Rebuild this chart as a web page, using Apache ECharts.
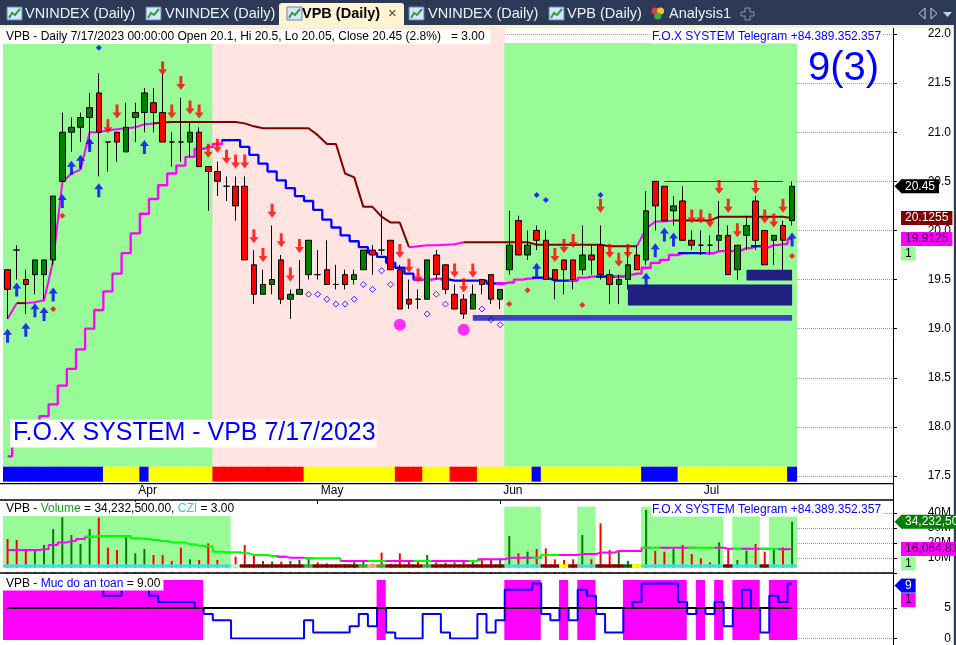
<!DOCTYPE html>
<html>
<head>
<meta charset="utf-8">
<title>VPB Daily</title>
<script src="https://cdn.jsdelivr.net/npm/echarts@6/dist/echarts.min.js"></script>
<style>
html,body{margin:0;padding:0;background:#fff;overflow:hidden;}
#chart{width:956px;height:645px;}
</style>
</head>
<body>
<div id="chart"></div>
<script>
// ================= DATA =================
const symbol = 'VPB';
const dates = [
'2023-03-14','2023-03-15','2023-03-16','2023-03-17','2023-03-20','2023-03-21','2023-03-22','2023-03-23','2023-03-24','2023-03-27','2023-03-28','2023-03-29','2023-03-30','2023-03-31',
'2023-04-03','2023-04-04','2023-04-05','2023-04-06','2023-04-07','2023-04-10','2023-04-11','2023-04-12','2023-04-13','2023-04-14','2023-04-17','2023-04-18','2023-04-19','2023-04-20','2023-04-21','2023-04-24','2023-04-25','2023-04-26','2023-04-27','2023-04-28',
'2023-05-04','2023-05-05','2023-05-08','2023-05-09','2023-05-10','2023-05-11','2023-05-12','2023-05-15','2023-05-16','2023-05-17','2023-05-18','2023-05-19','2023-05-22','2023-05-23','2023-05-24','2023-05-25','2023-05-26','2023-05-29','2023-05-30','2023-05-31',
'2023-06-01','2023-06-02','2023-06-05','2023-06-06','2023-06-07','2023-06-08','2023-06-09','2023-06-12','2023-06-13','2023-06-14','2023-06-15','2023-06-16','2023-06-19','2023-06-20','2023-06-21','2023-06-22','2023-06-23','2023-06-26','2023-06-27','2023-06-28','2023-06-29','2023-06-30',
'2023-07-03','2023-07-04','2023-07-05','2023-07-06','2023-07-07','2023-07-10','2023-07-11','2023-07-12','2023-07-13','2023-07-14','2023-07-17'];

const opens = [19.6,19.8,19.5,19.55,19.55,19.7,20.5,21.0,21.05,21.15,
21.4,20.9,21.0,20.8,21.15,21.2,21.3,21.2,20.9,20.9,
20.9,21.0,20.65,20.6,20.45,20.45,20.45,19.65,19.35,19.45,
19.7,19.3,19.35,19.55,19.55,19.6,19.45,19.55,19.5,19.6,
19.8,19.8,19.9,19.6,19.3,19.3,19.3,19.75,19.65,19.35,
19.3,19.2,19.5,19.55,19.3,19.6,20.1,19.75,20.0,19.9,
19.6,19.7,19.7,19.6,19.75,19.85,19.55,19.45,19.5,19.75,
19.7,20.5,20.45,20.2,20.3,19.9,19.85,19.85,19.9,19.95,
19.6,19.95,20.3,20.0,19.9,20.05,20.1];
const highs = [19.6,19.85,19.6,19.7,19.7,20.35,21.2,21.15,21.2,21.4,
21.6,20.9,21.0,21.3,21.3,21.45,21.45,21.6,21.0,21.35,
21.1,21.05,20.65,20.7,20.55,20.55,20.55,19.8,19.6,20.05,
19.75,19.4,19.7,19.9,19.8,19.9,19.65,19.6,19.6,19.8,
19.85,20.2,19.9,19.65,19.5,19.4,19.7,19.8,19.65,19.45,
19.35,19.45,19.5,19.55,19.4,20.2,20.15,20.0,20.05,20.0,
19.6,19.7,19.7,20.05,19.85,20.05,19.6,19.55,19.85,19.85,
20.4,20.5,20.45,20.35,20.45,20.0,20.0,19.95,20.3,20.05,
19.85,20.15,20.35,20.0,19.95,20.1,20.5];
const lows = [19.1,19.5,19.15,19.35,19.3,19.65,20.5,20.8,20.9,20.85,
20.55,20.6,20.7,20.8,20.9,21.0,21.0,20.9,20.65,20.7,
20.75,20.65,20.2,20.35,20.3,20.1,19.7,19.25,19.35,19.35,
19.25,19.1,19.35,19.5,19.5,19.45,19.4,19.4,19.45,19.6,
19.55,19.75,19.6,19.2,19.2,19.2,19.3,19.5,19.35,19.2,
19.1,19.2,19.35,19.25,19.2,19.55,19.75,19.7,19.8,19.5,
19.3,19.35,19.4,19.55,19.55,19.5,19.25,19.25,19.4,19.6,
19.65,20.0,20.1,20.05,19.9,19.8,19.75,19.75,19.8,19.55,
19.5,19.8,19.8,19.65,19.65,19.6,20.05];
const closes = [19.4,19.8,19.45,19.7,19.7,20.35,21.0,21.05,21.15,21.25,
21.0,20.9,20.9,21.05,21.2,21.4,21.2,20.9,20.9,20.9,
21.0,20.65,20.6,20.5,20.45,20.25,19.7,19.35,19.45,19.5,
19.3,19.35,19.4,19.9,19.55,19.45,19.45,19.45,19.55,19.8,
19.75,19.8,19.6,19.2,19.25,19.3,19.7,19.55,19.4,19.2,
19.15,19.35,19.45,19.3,19.4,19.85,19.75,19.85,19.9,19.5,
19.5,19.6,19.5,19.75,19.7,19.55,19.45,19.5,19.65,19.6,
20.2,20.25,20.1,20.25,19.9,19.85,19.85,19.85,19.95,19.55,
19.85,20.05,19.9,19.65,19.95,19.9,20.45];

// trailing line A (values) and its state runs: M = up (magenta), D = down (dark red)
const lineA = [19.10,19.26,19.26,19.27,19.29,19.69,20.49,20.58,20.62,21.00,
21.00,21.02,21.03,21.04,21.05,21.08,21.09,21.10,21.105,21.105,
21.105,21.105,21.105,21.105,21.105,21.105,21.09,21.06,21.04,21.04,
21.04,21.04,21.04,21.04,20.97,20.88,20.88,20.58,20.54,20.24,
20.24,20.14,20.08,20.08,19.83,19.84,19.85,19.85,19.855,19.86,
19.88,19.88,19.88,19.88,19.88,19.88,19.88,19.88,19.855,19.855,
19.855,19.855,19.855,19.855,19.855,19.855,19.84,19.84,19.84,19.84,
20.02,20.09,20.09,20.10,20.10,20.10,20.10,20.10,20.14,20.14,
20.14,20.14,20.14,20.14,20.14,20.14,20.1255];
const lineARuns = [['M',2],['D',1],['M',14],['D',28],['M',6],['D',19],['M',4],['D',13]];

// trailing stop line B (stepped): M = up (magenta), L = down (blue)
const lineB = [17.70,17.95,17.95,17.95,18.11,18.23,18.42,18.59,18.79,19.00,
19.19,19.38,19.56,19.77,19.97,20.17,20.32,20.46,20.58,20.66,
20.75,20.83,20.85,20.88,20.92,20.92,20.85,20.77,20.68,20.60,
20.51,20.43,20.35,20.30,20.21,20.11,20.03,19.95,19.89,19.83,
19.77,19.73,19.67,19.62,19.56,19.50,19.50,19.51,19.50,19.49,
19.49,19.49,19.49,19.46,19.46,19.47,19.50,19.51,19.52,19.51,
19.49,19.49,19.49,19.52,19.53,19.53,19.53,19.53,19.55,19.56,
19.62,19.67,19.70,19.75,19.77,19.77,19.77,19.77,19.79,19.79,
19.80,19.82,19.84,19.83,19.85,19.86,19.9125];
const lineBRuns = [['M',25],['L',21],['M',3],['L',6],['M',4],['L',4],['M',3],['L',2],['M',7],['L',3],['M',5],['L',1],['M',3]];

// background regimes: G = green, P = pink
const zoneRuns = [['G',23],['P',32],['G',32]];
// trend ribbon: B blue, Y yellow, R red
const bandRuns = [['B',11],['Y',4],['B',1],['Y',7],['R',10],['Y',10],['R',3],['Y',3],['R',3],['Y',6],['B',1],['Y',11],['B',4],['Y',12],['B',1]];

// signals: [bar index, price]
const buyArrows = [[0,19.00],[1,19.47],[2,19.06],[3,19.26],[4,19.22],[5,19.42],[6,20.37],[7,20.71],[8,20.77],[9,20.94],[10,20.48],[15,20.92],[58,19.67],[70,19.57],[71,19.87],[72,20.03],[73,19.98],[86,19.98]];
const sellArrows = [[11,20.99],[12,21.14],[17,21.58],[18,21.14],[19,21.43],[20,21.18],[21,21.14],[22,20.74],[23,20.79],[24,20.68],[25,20.63],[26,20.63],[27,19.87],[28,19.68],[29,20.13],[30,19.83],[31,19.48],[32,19.77],[43,19.72],[44,19.57],[45,19.47],[49,19.52],[50,19.37],[51,19.52],[60,19.68],[61,19.77],[62,19.82],[65,20.18],[66,19.72],[67,19.63],[68,19.72],[75,20.07],[76,20.07],[77,20.03],[78,20.37],[79,20.18],[80,19.93],[82,20.37],[83,20.07],[84,20.03],[85,20.18]];
const blueMarks = [[10,21.86],[58,20.36],[59,20.31],[65,20.36]];
const redMarks = [[5,19.20],[6,20.15],[55,19.25],[57,19.39],[63,19.24],[86,19.74]];
const hollowMarks = [[33,19.35],[34,19.35],[35,19.30],[36,19.25],[37,19.25],[38,19.30],[39,19.45],[40,19.40],[41,19.59],[42,19.45],[46,19.15],[47,19.35],[48,19.25],[52,19.20],[53,19.09],[54,19.04]];
const bottomDots = [[43,19.04],[50,18.99]];
// zones: [from bar, to bar, low price, high price]
const demandBoxes = [[68,86,19.235,19.45],[81,86,19.49,19.60]];
const supportBars = [[51,86,19.08,19.14]];
const resistance = [72,85,20.5];

// volume (millions of shares) and its average
const volumes = [22.7,22.0,15.3,15.3,18.7,29.3,37.1,25.3,19.3,29.3,
36.9,16.9,15.3,24.2,13.1,16.0,12.0,12.0,8.0,16.9,
9.1,8.7,19.8,8.7,5.8,10.9,18.7,11.6,8.0,7.6,
7.6,8.0,8.7,9.8,7.1,6.4,5.8,5.8,8.7,7.6,
6.2,13.6,6.2,13.1,7.6,7.6,12.0,7.1,6.9,7.1,
7.6,7.6,8.7,8.7,9.8,24.7,13.1,14.2,16.0,16.4,
9.1,8.7,9.1,25.3,9.1,33.1,15.3,15.3,8.0,5.8,
42.0,14.7,14.2,16.4,18.7,12.7,9.8,7.1,20.4,16.0,
8.7,14.9,19.3,14.2,16.4,17.1,34.2325];
const volumeMA = [15.3,15.3,15.3,15.3,15.8,18.7,20.4,21.3,22.7,24.2,
24.7,24.7,24.7,24.7,23.1,22.7,22.0,21.3,20.4,20.4,
19.1,18.2,17.6,14.2,13.8,13.8,13.1,12.0,12.0,11.3,
10.9,10.2,10.2,9.8,9.8,9.8,9.8,8.0,8.0,8.0,
8.0,8.0,8.0,8.0,8.0,8.0,8.0,8.0,8.0,8.0,
8.0,8.0,9.1,9.1,9.1,10.2,10.2,10.2,10.2,12.0,
12.0,12.0,12.0,12.7,12.7,13.6,13.6,14.7,14.7,14.7,
16.9,16.9,16.9,16.9,16.9,16.9,16.9,16.9,16.9,16.2,
16.2,16.2,16.2,16.2,16.2,15.8,16.064812];
const volumeMARuns = [['M',10],['G',21],['M',3],['G',4],['M',3],['G',2],['M',3],['G',2],['M',4],['G',1],['M',6],['G',3],['M',9],['G',2],['M',3],['G',3],['M',2],['G',1],['M',2],['G',2],['M',1]];
// CZI state per bar: c = accumulation, r = distribution, y = neutral, g/d/o/l = others
const volumeStateRuns = [['c',25],['l',1],['r',7],['g',1],['r',5],['g',1],['o',1],['g',1],['r',4],['g',1],['r',8],['c',4],['r',2],['y',1],['r',1],['c',2],['r',3],['d',1],['y',1],['c',9],['r',1],['c',3],['r',1],['c',3]];
const cziValue = 3;

// "Muc do an toan" (safety level)
const safety = [9,9,9,9,9,9,9,9,9,9,
9,7,7,9,9,9,7,6,6,6,
6,5,4,3,3,0,0,0,0,0,
0,0,0,3,1,1,1,1,2,4,
2,5,1,0,0,0,4,4,1,0,
0,0,4,1,3,8,8,8,9,4,
3,5,3,8,7,4,1,1,5,6,
9,9,9,9,6,4,5,4,6,2,
5,8,5,1,7,6,9];
const safetyThreshold = 5;
const priceFlag = 1, volumeFlag = 1, safetyFlag = 1;

const priceTicks = {min: 17.5, max: 22, step: 0.5};
const volumeTicks = {step: 10};
const safetyTicks = {step: 5};
const tabs = ['VNINDEX (Daily)', 'VNINDEX (Daily)', 'VPB (Daily)', 'VNINDEX (Daily)', 'VPB (Daily)', 'Analysis1'];

// ================= STYLE / LAYOUT =================
const F = "Arial, 'Liberation Sans', sans-serif";
const N = dates.length;
const PAD_BARS = 11;
const categories = dates.concat(Array.from({length: PAD_BARS}, (_, i) => 'pad' + i));
const GL = 3, GW = 894;
const BAND_W = 10;
const C = {
  green: '#98fb98', pink: '#ffe4e1', magenta: '#ff00ff', darkRed: '#800000', blue: '#0000ff',
  upBody: '#008000', downBody: '#ff0000', navy: '#202080', support: '#4040c8'
};
const ZONE_STYLE = {G: {h: (466.7 - 43) / 438.7, color: C.green}, P: {h: 1, color: C.pink}};
const BAND_COLOR = {B: '#0000ff', Y: '#ffff00', R: '#ff0000'};
const VOL_STATE_COLOR = {c: '#40e0d0', r: '#800000', y: '#ffff00', g: '#33b033', d: '#006400', o: '#ffa07a', l: '#c8f5c0'};
const monthNames = ['Jan','Feb','Mar','Apr','May','Jun','Jul','Aug','Sep','Oct','Nov','Dec'];

function expandRuns(runs) { const out = []; runs.forEach(([c, n]) => { for (let i = 0; i < n; i++) out.push(c); }); return out; }
const zoneState = expandRuns(zoneRuns);
const bandState = expandRuns(bandRuns);
const lineAState = expandRuns(lineARuns);
const lineBState = expandRuns(lineBRuns);
const volMAState = expandRuns(volumeMARuns);
const volState = expandRuns(volumeStateRuns);

const gridSpec = [
  [28, 438.7],     // 0 regime background
  [34, 442],       // 1 price
  [466.7, 15],     // 2 trend ribbon
  [483.3, 16.7],   // 3 date axis
  [506.7, 57.6],   // 4 volume background
  [500, 73],       // 5 volume
  [564.3, 7.7],    // 6 volume state strip
  [580, 60],       // 7 safety background
  [580.55, 57.95]  // 8 safety
];
const grid = gridSpec.map(([top, height]) => ({left: GL, width: GW, top, height, show: false}));

const isMonthStart = i => i > 0 && i < N && dates[i].slice(5, 7) !== dates[i - 1].slice(5, 7);
const xAxis = grid.map((g, i) => {
  const ax = {type: 'category', gridIndex: i, data: categories, boundaryGap: true, show: false};
  if (i === 3) {
    Object.assign(ax, {
      show: true, position: 'top',
      axisLine: {show: false},
      axisTick: {show: true, inside: true, length: 4, alignWithLabel: true, interval: (idx) => isMonthStart(idx), lineStyle: {color: '#000', width: 1}},
      axisLabel: {show: true, inside: true, interval: (idx) => isMonthStart(idx),
        formatter: (v) => (v && v.length === 10) ? monthNames[parseInt(v.slice(5, 7), 10) - 1] : '',
        color: '#000', fontSize: 12, fontFamily: F, align: 'left', verticalAlign: 'top', margin: 1, padding: [0, 0, 0, 3]},
      splitLine: {show: false}
    });
  }
  return ax;
});

const rightLabel = {color: '#000', fontSize: 12, fontFamily: F, align: 'right', margin: 58, showMaxLabel: false};
const dotted = {show: true, showMaxLine: false, lineStyle: {type: 'dotted', color: '#9a9a9a', width: 1}};
const onStep = (v, step) => Math.abs(v / step - Math.round(v / step)) < 1e-6;
const hiddenY = (gi, max) => ({type: 'value', gridIndex: gi, min: 0, max: max, show: false, splitLine: {show: false}});
const yAxis = [
  hiddenY(0, 1),
  {type: 'value', gridIndex: 1, position: 'right', offset: -4, min: priceTicks.min, max: priceTicks.max, interval: priceTicks.step,
    axisLine: {show: false}, axisTick: {show: true, length: 4, lineStyle: {color: '#000'}},
    axisLabel: Object.assign({}, rightLabel, {showMaxLabel: true, formatter: v => v.toFixed(1)}), splitLine: Object.assign({}, dotted, {showMaxLine: true})},
  hiddenY(2, 1),
  hiddenY(3, 1),
  hiddenY(4, 1),
  {type: 'value', gridIndex: 5, position: 'right', offset: -4, min: 0, max: 73 / 1.5, interval: volumeTicks.step,
    axisLine: {show: false}, axisTick: {show: true, length: 4, lineStyle: {color: '#000'}},
    axisLabel: Object.assign({}, rightLabel, {formatter: v => (v === 0 || !onStep(v, volumeTicks.step)) ? '' : v + 'M'}), splitLine: dotted},
  hiddenY(6, 7.7),
  hiddenY(7, 1),
  {type: 'value', gridIndex: 8, position: 'right', offset: -4, min: 0, max: 9.5, interval: safetyTicks.step,
    axisLine: {show: false}, axisTick: {show: true, length: 4, lineStyle: {color: '#000'}},
    axisLabel: Object.assign({}, rightLabel, {formatter: v => onStep(v, safetyTicks.step) ? String(v) : ''}), splitLine: dotted}
];

const series = [];
const ax = (i) => ({xAxisIndex: i, yAxisIndex: i});

// regime background
series.push(Object.assign({type: 'bar', barWidth: BAND_W, silent: true, z: 1,
  data: zoneState.map(s => ({value: ZONE_STYLE[s].h, itemStyle: {color: ZONE_STYLE[s].color}}))}, ax(0)));
// trend ribbon
series.push(Object.assign({type: 'bar', barWidth: BAND_W, silent: true, z: 1,
  data: bandState.map(s => ({value: 1, itemStyle: {color: BAND_COLOR[s]}}))}, ax(2)));

// boxes
function boxRenderer(color) {
  return function (params, api) {
    const p0 = api.coord([api.value(0), api.value(3)]);
    const p1 = api.coord([api.value(1), api.value(2)]);
    return {type: 'rect', shape: {x: p0[0], y: p0[1], width: p1[0] - p0[0], height: p1[1] - p0[1]}, style: {fill: color}};
  };
}
series.push(Object.assign({type: 'custom', z: 2, silent: true, renderItem: boxRenderer(C.navy), data: demandBoxes, encode: {x: [0, 1], y: [2, 3]}}, ax(1)));
series.push(Object.assign({type: 'custom', z: 2, silent: true, renderItem: boxRenderer(C.support), data: supportBars, encode: {x: [0, 1], y: [2, 3]}}, ax(1)));

// colored run lines
function runLines(values, states, colors, extra, axisIdx, width) {
  const out = [];
  let a = 0;
  while (a < N) {
    let b = a;
    while (b + 1 < N && states[b + 1] === states[a]) b++;
    const data = new Array(N).fill(null);
    for (let i = Math.max(0, a - 1); i <= b; i++) data[i] = values[i];
    out.push(Object.assign({type: 'line', data, symbol: 'none', silent: true, connectNulls: false,
      lineStyle: {color: colors[states[a]], width: width}, itemStyle: {color: colors[states[a]]}}, ax(axisIdx), extra));
    a = b + 1;
  }
  return out;
}
series.push(...runLines(lineA, lineAState, {M: C.magenta, D: C.darkRed}, {z: 3}, 1, 2));
series.push(...runLines(lineB, lineBState, {M: C.magenta, L: C.blue}, {z: 3, step: 'middle'}, 1, 2.3));

// candles
series.push(Object.assign({
  type: 'candlestick', z: 4, silent: true, barWidth: 6,
  data: opens.map((o, i) => [o, closes[i], lows[i], highs[i]]),
  itemStyle: {color: C.upBody, color0: C.downBody, borderColor: '#000', borderColor0: '#000', borderWidth: 1},
  markLine: {silent: true, symbol: 'none', label: {show: false}, animation: false,
    lineStyle: {color: '#a01010', width: 1, type: 'solid'},
    data: [[{coord: [dates[resistance[0]], resistance[2]]}, {coord: [dates[resistance[1]], resistance[2]]}]]}
}, ax(1)));

// signals
const upArrow = 'path://M4.5,0 L9,6 L6,6 L6,14 L3,14 L3,6 L0,6 Z';
const downArrow = 'path://M3,0 L6,0 L6,8 L9,8 L4.5,14 L0,8 L3,8 Z';
series.push(Object.assign({type: 'scatter', z: 5, silent: true, data: buyArrows, symbol: upArrow, symbolSize: [9, 14], symbolOffset: [0, 7], itemStyle: {color: C.blue}}, ax(1)));
series.push(Object.assign({type: 'scatter', z: 5, silent: true, data: sellArrows, symbol: downArrow, symbolSize: [9, 14], symbolOffset: [0, -7], itemStyle: {color: '#ff0000'}}, ax(1)));
series.push(Object.assign({type: 'scatter', z: 5, silent: true, data: blueMarks, symbol: 'diamond', symbolSize: 6, itemStyle: {color: C.blue}}, ax(1)));
series.push(Object.assign({type: 'scatter', z: 5, silent: true, data: redMarks, symbol: 'diamond', symbolSize: 6, itemStyle: {color: '#ff0000'}}, ax(1)));
series.push(Object.assign({type: 'scatter', z: 5, silent: true, data: hollowMarks, symbol: 'diamond', symbolSize: 6, itemStyle: {color: 'rgba(0,0,0,0)', borderColor: C.blue, borderWidth: 1}}, ax(1)));
series.push(Object.assign({type: 'scatter', z: 5, silent: true, data: bottomDots, symbol: 'circle', symbolSize: 12, itemStyle: {color: C.magenta}}, ax(1)));

// volume pane
series.push(Object.assign({type: 'bar', barWidth: BAND_W, silent: true, z: 1,
  data: volState.map(s => ({value: 1, itemStyle: {color: s === 'c' ? C.green : '#ffffff'}}))}, ax(4)));
series.push(Object.assign({type: 'bar', barWidth: 2, silent: true, z: 3,
  data: volumes.map((v, i) => ({value: v, itemStyle: {color: closes[i] > opens[i] ? C.upBody : '#ff0000'}}))}, ax(5)));
series.push(...runLines(volumeMA, volMAState, {M: C.magenta, G: '#00ff00'}, {z: 4, step: 'middle'}, 5, 2));
series.push(Object.assign({type: 'bar', barWidth: BAND_W, silent: true, z: 5, stack: 'strip',
  data: volState.map(() => ({value: 4.3, itemStyle: {color: '#ffffff'}}))}, ax(6)));
series.push(Object.assign({type: 'bar', barWidth: BAND_W, silent: true, z: 5, stack: 'strip',
  data: volState.map(s => ({value: 3.4, itemStyle: {color: VOL_STATE_COLOR[s]}}))}, ax(6)));

// safety pane
series.push(Object.assign({type: 'bar', barWidth: BAND_W, silent: true, z: 1,
  data: safety.map(v => ({value: 1, itemStyle: {color: v >= safetyThreshold ? C.magenta : '#ffffff'}}))}, ax(7)));
series.push(Object.assign({type: 'line', z: 3, silent: true, data: [], symbol: 'none',
  markLine: {silent: true, symbol: 'none', label: {show: false}, animation: false,
    lineStyle: {color: '#000', width: 2, type: 'solid'},
    data: [[{coord: [dates[0], safetyThreshold]}, {coord: [dates[N - 1], safetyThreshold]}]]}}, ax(8)));
series.push(Object.assign({type: 'line', z: 4, silent: true, data: safety, step: 'middle', symbol: 'none',
  lineStyle: {color: C.blue, width: 2}, itemStyle: {color: C.blue}}, ax(8)));

const chart = echarts.init(document.getElementById('chart'), null, {renderer: 'canvas'});
chart.setOption({animation: false, backgroundColor: '#ffffff', grid, xAxis, yAxis, series});

// ================= TEXT / DECORATION =================
const last = N - 1;
const fmtDate = d => `${parseInt(d.slice(5, 7), 10)}/${parseInt(d.slice(8, 10), 10)}/${d.slice(0, 4)}`;
const pct = ((closes[last] / closes[last - 1] - 1) * 100).toFixed(1);
const headerText = `${symbol} - Daily ${fmtDate(dates[last])} 00:00:00 Open ${opens[last]}, Hi ${highs[last]}, Lo ${lows[last]}, Close ${closes[last]} (${pct}%)   = ${cziValue.toFixed(2)}`;
const fmtShares = m => Math.round(m * 1e6).toLocaleString('en-US');
const telegram = 'F.O.X SYSTEM Telegram +84.389.352.357';

const G = [];
const z = 100;
// tab bar
G.push({type: 'rect', shape: {x: 0, y: 0, width: 956, height: 26}, style: {fill: '#2c3a57'}, z, silent: true});
G.push({type: 'rect', shape: {x: 0, y: 25, width: 956, height: 3}, style: {fill: '#fcefc4'}, z, silent: true});
G.push({type: 'rect', shape: {x: 279, y: 3, width: 125, height: 25, r: [3, 3, 0, 0]}, style: {fill: '#fff3d2'}, z: z + 1, silent: true});
const tabPos = [[7, 25], [146, 165], [287, 302], [409, 428], [549, 567], [651, 669]];
tabPos.forEach(([ix, tx], i) => {
  if (i === 5) {
    G.push({type: 'circle', shape: {cx: ix + 4, cy: 11, r: 3.6}, style: {fill: '#e83a3a'}, z: z + 2, silent: true});
    G.push({type: 'circle', shape: {cx: ix + 9.5, cy: 11, r: 3.6}, style: {fill: '#f4c430'}, z: z + 2, silent: true});
    G.push({type: 'circle', shape: {cx: ix + 6.8, cy: 16, r: 3.6}, style: {fill: '#3cb043'}, z: z + 2, silent: true});
  } else {
    G.push({type: 'rect', shape: {x: ix, y: 7, width: 15, height: 13}, style: {fill: '#d6e6f7', stroke: '#5b84bf', lineWidth: 1}, z: z + 2, silent: true});
    G.push({type: 'polyline', shape: {points: [[ix + 2, 18], [ix + 5, 13], [ix + 8, 15], [ix + 13, 9]]}, style: {stroke: '#2e9e3e', lineWidth: 2, fill: null}, z: z + 3, silent: true});
  }
  const active = i === 2;
  G.push({type: 'text', x: tx, y: 14, style: {text: tabs[i], font: (active ? 'bold ' : '') + '14.5px ' + F, fill: active ? '#000' : '#eef2f8', verticalAlign: 'middle', align: 'left'}, z: z + 3, silent: true});
});
G.push({type: 'text', x: 388, y: 14, style: {text: '×', font: '15px ' + F, fill: '#444', verticalAlign: 'middle'}, z: z + 3, silent: true});
G.push({type: 'polygon', shape: {points: [[745, 8], [750, 8], [750, 12], [754, 12], [754, 16], [750, 16], [750, 20], [745, 20], [745, 16], [741, 16], [741, 12], [745, 12]]}, style: {fill: null, stroke: '#8c95a8', lineWidth: 1}, z: z + 3, silent: true});
G.push({type: 'polygon', shape: {points: [[925, 8], [925, 19], [919, 13.5]]}, style: {fill: null, stroke: '#c9cfdb', lineWidth: 1}, z: z + 3, silent: true});
G.push({type: 'polygon', shape: {points: [[931, 8], [931, 19], [937, 13.5]]}, style: {fill: null, stroke: '#c9cfdb', lineWidth: 1}, z: z + 3, silent: true});
G.push({type: 'polygon', shape: {points: [[943, 12], [952, 12], [947.5, 17]]}, style: {fill: '#c9cfdb'}, z: z + 3, silent: true});
// window frame right
G.push({type: 'rect', shape: {x: 952.8, y: 26, width: 1.2, height: 619}, style: {fill: '#f2dfa0'}, z, silent: true});
G.push({type: 'rect', shape: {x: 954, y: 0, width: 2, height: 645}, style: {fill: '#2c3a57'}, z, silent: true});
// pane separators and axis line
[483.6, 500, 573].forEach(y => G.push({type: 'line', shape: {x1: 0, y1: y, x2: 893.5, y2: y}, style: {stroke: '#000', lineWidth: 1.4}, z, silent: true}));
G.push({type: 'line', shape: {x1: 893.5, y1: 28, x2: 893.5, y2: 645}, style: {stroke: '#000', lineWidth: 1}, z, silent: true});

// pane titles
G.push({type: 'text', x: 3, y: 36.5, style: {text: headerText, font: '12px ' + F, fill: '#000', backgroundColor: '#fff', padding: [2, 6, 1, 3], verticalAlign: 'middle', align: 'left'}, z: z + 5, silent: true});
G.push({type: 'text', x: 651, y: 36.5, style: {text: telegram, font: '12px ' + F, fill: C.blue, backgroundColor: '#fff', padding: [1, 1, 1, 1], verticalAlign: 'middle', align: 'left'}, z: z + 5, silent: true});
G.push({type: 'text', x: 808, y: 69, style: {text: `${safety[last]}(${cziValue})`, font: '40px ' + F, fill: C.blue, verticalAlign: 'middle', align: 'left'}, z: z + 5, silent: true});
G.push({type: 'text', x: 10, y: 433.5, style: {text: `F.O.X SYSTEM - ${symbol} ${fmtDate(dates[last])}`, font: '25px ' + F, fill: C.blue, backgroundColor: '#fff', padding: [2, 1, 1, 3], verticalAlign: 'middle', align: 'left'}, z: z + 5, silent: true});
G.push({type: 'text', x: 3, y: 509, style: {
  text: `{k|${symbol} - }{g|Volume}{k| = ${fmtShares(volumes[last])}.00, }{c|CZI}{k| = ${cziValue.toFixed(2)}}`,
  rich: {k: {fill: '#000', font: '12px ' + F}, g: {fill: '#1aa01a', font: '12px ' + F}, c: {fill: '#3cc8c8', font: '12px ' + F}},
  font: '12px ' + F, backgroundColor: '#fff', padding: [1, 3, 1, 3], verticalAlign: 'middle', align: 'left'}, z: z + 5, silent: true});
G.push({type: 'text', x: 651, y: 509.5, style: {text: telegram, font: '12px ' + F, fill: C.blue, backgroundColor: '#fff', padding: [1, 1, 1, 1], verticalAlign: 'middle', align: 'left'}, z: z + 5, silent: true});
G.push({type: 'text', x: 3, y: 583.5, style: {
  text: `{k|${symbol} - }{b|Muc do an toan}{k| = ${safety[last].toFixed(2)}}`,
  rich: {k: {fill: '#000', font: '12px ' + F}, b: {fill: C.blue, font: '12px ' + F}},
  font: '12px ' + F, backgroundColor: '#fff', padding: [1, 3, 1, 3], verticalAlign: 'middle', align: 'left'}, z: z + 5, silent: true});

// value tags on the right axis
const TAG_X = 901;
const yPx = (axisIdx, v) => chart.convertToPixel({yAxisIndex: axisIdx}, v);
function tag(y, text, bg, fg, arrow) {
  if (arrow) G.push({type: 'polygon', shape: {points: [[TAG_X - 6.5, y], [TAG_X + 0.5, y - 7], [TAG_X + 0.5, y + 7]]}, style: {fill: bg}, z: z + 8, silent: true});
  G.push({type: 'text', x: TAG_X, y: y, style: {text, font: '12px ' + F, fill: fg, backgroundColor: bg, padding: [1, 4, 1, 4], verticalAlign: 'middle', align: 'left'}, z: z + 9, silent: true});
}
const yClose = yPx(1, closes[last]);
tag(yClose, String(closes[last]), '#000', '#fff', true);
tag(yPx(1, lineA[last]), String(lineA[last]), C.darkRed, '#fff', false);
const yB = yPx(1, lineB[last]);
tag(yB, String(lineB[last]), C.magenta, '#2a002a', false);
tag(yB + 14.5, String(priceFlag), C.green, '#000', false);
tag(yPx(5, volumes[last]), fmtShares(volumes[last]), C.upBody, '#fff', true);
const yVM = yPx(5, volumeMA[last]);
tag(yVM, fmtShares(volumeMA[last]), C.magenta, '#2a002a', false);
tag(yVM + 14.5, String(volumeFlag), C.green, '#000', false);
const yS = yPx(8, safety[last]) + 2;
tag(yS, String(safety[last]), C.blue, '#fff', true);
tag(yS + 14.5, String(safetyFlag), C.magenta, '#2a002a', false);

chart.setOption({graphic: {elements: G}});
</script>
</body>
</html>
